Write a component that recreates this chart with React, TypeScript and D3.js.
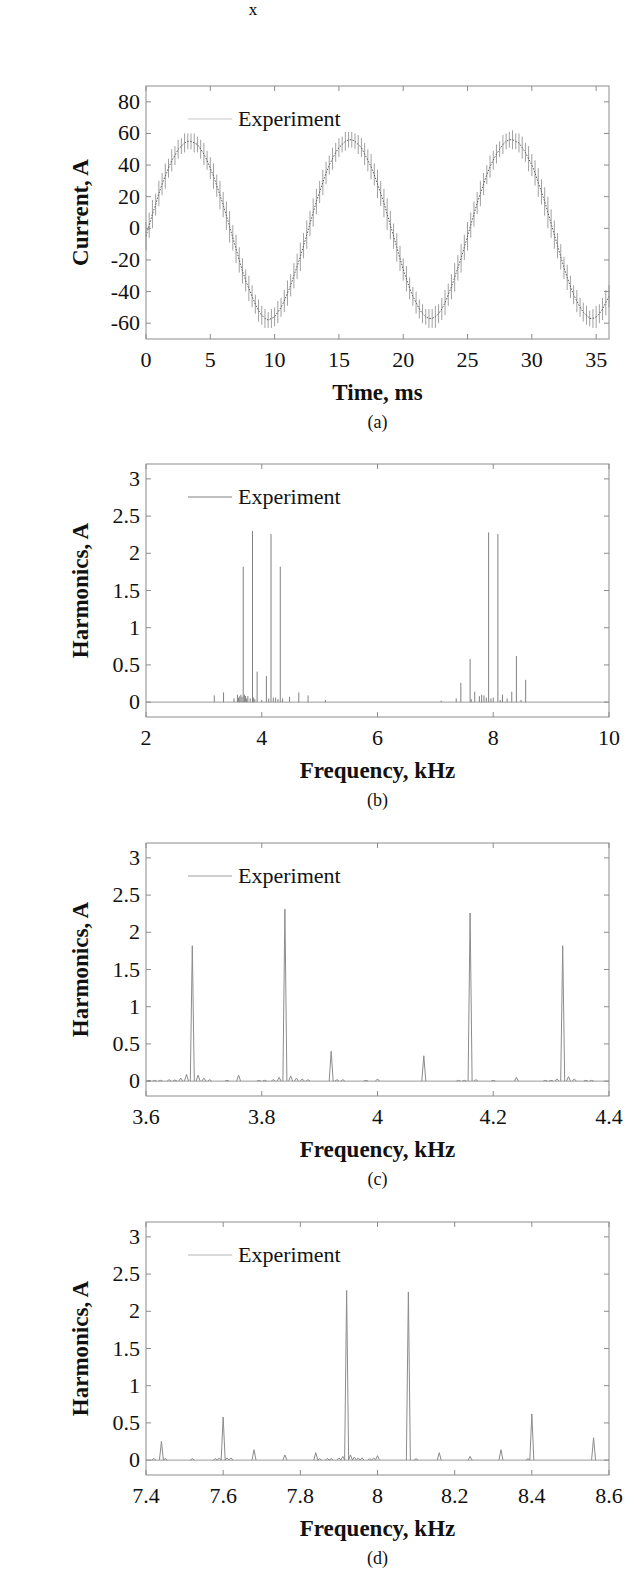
import React from 'react';
import * as d3 from 'd3';

const FONT = '"Liberation Serif", "Times New Roman", serif';

// (a) measured phase current, one sample every 0.25 ms
const timeStep = 0.25;
const currentMid = [
  -5, 2, 9, 15, 22, 28, 33, 38, 43, 46,
  50, 52, 54, 55, 55, 54, 53, 50, 47, 43,
  38, 33, 27, 21, 15, 8, 1, -6, -13, -20,
  -27, -33, -38, -43, -48, -52, -55, -57, -58, -57,
  -56, -53, -50, -46, -41, -36, -30, -24, -18, -11,
  -4, 3, 10, 17, 23, 29, 35, 40, 44, 48,
  51, 53, 55, 56, 56, 55, 53, 51, 47, 43,
  39, 34, 28, 22, 16, 9, 2, -5, -12, -19,
  -26, -32, -38, -43, -47, -51, -54, -56, -57, -57,
  -56, -54, -51, -47, -42, -37, -31, -25, -19, -12,
  -5, 2, 9, 16, 22, 28, 34, 39, 43, 47,
  50, 53, 55, 56, 56, 55, 54, 51, 48, 44,
  40, 35, 29, 23, 17, 10, 3, -4, -11, -18,
  -25, -31, -37, -42, -46, -50, -53, -55, -57, -57,
  -56, -54, -51, -47, -43
];
// switching ripple (half height of each vertical stroke), A
const currentRipple = [
  9, 8, 9, 7, 8, 7, 8, 6, 7, 6,
  6, 5, 6, 5, 5, 6, 5, 6, 7, 6,
  7, 8, 7, 9, 8, 9, 10, 8, 9, 8,
  8, 7, 8, 7, 6, 7, 6, 6, 5, 6,
  6, 7, 6, 7, 8, 7, 8, 8, 9, 8,
  9, 8, 9, 8, 7, 8, 7, 6, 7, 6,
  6, 5, 6, 5, 5, 5, 6, 6, 7, 7,
  8, 7, 9, 8, 9, 10, 9, 8, 9, 8,
  7, 8, 7, 6, 7, 6, 6, 5, 6, 6,
  7, 6, 7, 8, 7, 8, 9, 8, 9, 8,
  9, 8, 8, 7, 8, 7, 6, 7, 6, 6,
  5, 6, 5, 5, 6, 5, 6, 7, 6, 8,
  7, 8, 9, 8, 9, 10, 9, 9, 8, 8,
  7, 8, 7, 6, 7, 6, 6, 6, 5, 6,
  7, 6, 7, 8, 7
];
const timeTicks = [0, 5, 10, 15, 20, 25, 30, 35];
const currentTicks = [-60, -40, -20, 0, 20, 40, 60, 80];

// (b) wide band spectrum, kHz / A
const bFreq = [
  3.18, 3.34, 3.52, 3.58, 3.6, 3.62, 3.64, 3.66, 3.68, 3.7, 3.72, 3.74, 3.76, 3.8,
  3.84, 3.86, 3.88, 3.92, 4.0, 4.08, 4.12, 4.16, 4.2, 4.24, 4.28, 4.32, 4.36,
  4.48, 4.64, 4.8, 5.1, 7.1, 7.36, 7.44, 7.6, 7.62, 7.68, 7.76, 7.8, 7.84,
  7.88, 7.92, 7.96, 8.0, 8.08, 8.12, 8.16, 8.24, 8.32, 8.4, 8.48, 8.56
];
const bAmp = [
  0.09, 0.13, 0.05, 0.1, 0.06, 0.08, 0.1, 0.07, 1.82, 0.1, 0.08, 0.05, 0.08, 0.05,
  2.3, 0.06, 0.04, 0.41, 0.03, 0.35, 0.05, 2.26, 0.06, 0.06, 0.04, 1.82, 0.05,
  0.07, 0.13, 0.09, 0.03, 0.02, 0.05, 0.26, 0.58, 0.04, 0.14, 0.08, 0.1, 0.09,
  0.06, 2.28, 0.05, 0.06, 2.26, 0.03, 0.1, 0.05, 0.14, 0.62, 0.03, 0.3
];

// (c) zoom around 4 kHz
const cFreq = [
  3.605, 3.615, 3.625, 3.64, 3.65, 3.66, 3.67, 3.68, 3.69, 3.7, 3.71, 3.74, 3.76,
  3.795, 3.805, 3.82, 3.83, 3.84, 3.85, 3.86, 3.87, 3.88, 3.92, 3.93, 3.94, 3.98,
  4.0, 4.08, 4.14, 4.15, 4.16, 4.17, 4.2, 4.24, 4.29, 4.3, 4.31, 4.32, 4.33, 4.34,
  4.36, 4.37
];
const cAmp = [
  0.01, 0.01, 0.01, 0.02, 0.015, 0.04, 0.09, 1.82, 0.08, 0.04, 0.02, 0.01, 0.08,
  0.01, 0.01, 0.02, 0.05, 2.31, 0.07, 0.04, 0.03, 0.02, 0.4, 0.02, 0.02, 0.01,
  0.03, 0.34, 0.01, 0.01, 2.26, 0.02, 0.01, 0.05, 0.01, 0.01, 0.03, 1.82, 0.06, 0.03,
  0.01, 0.01
];

// (d) zoom around 8 kHz
const dFreq = [
  7.42, 7.44, 7.45, 7.52, 7.58, 7.59, 7.6, 7.61, 7.62, 7.68, 7.76, 7.84, 7.85,
  7.87, 7.88, 7.9, 7.91, 7.92, 7.93, 7.94, 7.95, 7.96, 7.98, 7.99, 8.0, 8.08,
  8.1, 8.16, 8.24, 8.32, 8.39, 8.4, 8.56
];
const dAmp = [
  0.02, 0.25, 0.02, 0.02, 0.02, 0.03, 0.58, 0.03, 0.03, 0.14, 0.07, 0.1, 0.02,
  0.02, 0.02, 0.03, 0.05, 2.28, 0.07, 0.04, 0.03, 0.03, 0.02, 0.03, 0.06, 2.26,
  0.02, 0.1, 0.05, 0.14, 0.02, 0.62, 0.3
];

const harmTicks = [0, 0.5, 1, 1.5, 2, 2.5, 3];
const freqTicksB = [2, 4, 6, 8, 10];
const freqTicksC = [3.6, 3.8, 4, 4.2, 4.4];
const freqTicksD = [7.4, 7.6, 7.8, 8, 8.2, 8.4, 8.6];

const LEFT = 146;
const RIGHT = 609;
const FRAME_H = 253;
const AXIS = '#8c8c8c';

const fmt = (v) => String(+v.toFixed(2));

function Panel({ top, x, y, xTicks, yTicks, xLabel, yLabel, caption, legendColor, children }) {
  const bottom = top + FRAME_H;
  const mid = (LEFT + RIGHT) / 2;
  return (
    <g fontFamily={FONT} fill="#111">
      {children}
      <rect x={LEFT} y={top} width={RIGHT - LEFT} height={FRAME_H} fill="none" stroke={AXIS} />
      {xTicks.map((v) => (
        <g key={'x' + v}>
          <line x1={x(v)} x2={x(v)} y1={bottom} y2={bottom - 5} stroke={AXIS} />
          <line x1={x(v)} x2={x(v)} y1={top} y2={top + 5} stroke={AXIS} />
          <text x={x(v)} y={bottom + 28} fontSize={22} textAnchor="middle">{fmt(v)}</text>
        </g>
      ))}
      {yTicks.map((v) => (
        <g key={'y' + v}>
          <line x1={LEFT} x2={LEFT + 5} y1={y(v)} y2={y(v)} stroke={AXIS} />
          <line x1={RIGHT} x2={RIGHT - 5} y1={y(v)} y2={y(v)} stroke={AXIS} />
          <text x={LEFT - 6} y={y(v) + 7} fontSize={22} textAnchor="end">{fmt(v)}</text>
        </g>
      ))}
      <line x1={188} x2={232} y1={top + 33} y2={top + 33} stroke={legendColor} />
      <text x={238} y={top + 40} fontSize={22}>Experiment</text>
      <text x={mid} y={bottom + 61} fontSize={23} fontWeight="bold" textAnchor="middle">{xLabel}</text>
      <text
        transform={`translate(88, ${(top + bottom) / 2}) rotate(-90)`}
        fontSize={23}
        fontWeight="bold"
        textAnchor="middle"
      >
        {yLabel}
      </text>
      <text x={mid} y={bottom + 89} fontSize={18} textAnchor="middle">{caption}</text>
    </g>
  );
}

function CurrentPanel({ top }) {
  const x = d3.scaleLinear().domain([0, 36]).range([LEFT, RIGHT]);
  const y = d3.scaleLinear().domain([-70, 90]).range([top + FRAME_H, top]);
  const line = d3
    .line()
    .x((d, i) => x(i * timeStep))
    .y((d) => y(d));
  return (
    <Panel
      top={top} x={x} y={y}
      xTicks={timeTicks} yTicks={currentTicks}
      xLabel="Time, ms" yLabel="Current, A" caption="(a)" legendColor="#c8c8c8"
    >
      {currentMid.map((c, i) => (
        <line
          key={i}
          x1={x(i * timeStep)} x2={x(i * timeStep)}
          y1={y(c - currentRipple[i])} y2={y(c + currentRipple[i])}
          stroke="#a0a0a0" strokeWidth={1}
        />
      ))}
      <path d={line(currentMid)} fill="none" stroke="#5a5a5a" strokeWidth={1} strokeDasharray="1.5 1.5" />
    </Panel>
  );
}

function SpectrumPanel({ top, freq, amp, domain, ticks, caption, color, legendColor, spikeWidth }) {
  const x = d3.scaleLinear().domain(domain).range([LEFT, RIGHT]);
  const y = d3.scaleLinear().domain([-0.2, 3.2]).range([top + FRAME_H, top]);
  const y0 = y(0);
  return (
    <Panel
      top={top} x={x} y={y}
      xTicks={ticks} yTicks={harmTicks}
      xLabel="Frequency, kHz" yLabel="Harmonics, A" caption={caption} legendColor={legendColor}
    >
      <line x1={LEFT} x2={RIGHT} y1={y0} y2={y0} stroke="#9a9a9a" />
      {freq.map((f, i) => {
        const px = x(f);
        const d = spikeWidth > 0
          ? `M${px - spikeWidth},${y0}L${px},${y(amp[i])}L${px + spikeWidth},${y0}`
          : `M${px},${y0}L${px},${y(amp[i])}`;
        return <path key={i} d={d} fill="none" stroke={color} strokeWidth={1} />;
      })}
    </Panel>
  );
}

export default function App() {
  return (
    <svg
      width={634}
      height={1571}
      style={{ position: 'absolute', left: 0, top: 0, background: '#fff' }}
    >
      <rect width={634} height={1571} fill="#fff" />
      <text x={253} y={15} fontFamily={FONT} fontSize={17} textAnchor="middle">x</text>
      <CurrentPanel top={86} />
      <SpectrumPanel
        top={464} freq={bFreq} amp={bAmp} domain={[2, 10]} ticks={freqTicksB}
        caption="(b)" color="#808080" legendColor="#808080" spikeWidth={0}
      />
      <SpectrumPanel
        top={843} freq={cFreq} amp={cAmp} domain={[3.6, 4.4]} ticks={freqTicksC}
        caption="(c)" color="#8c8c8c" legendColor="#a0a0a0" spikeWidth={2}
      />
      <SpectrumPanel
        top={1222} freq={dFreq} amp={dAmp} domain={[7.4, 8.6]} ticks={freqTicksD}
        caption="(d)" color="#8c8c8c" legendColor="#b4b4b4" spikeWidth={2}
      />
    </svg>
  );
}
